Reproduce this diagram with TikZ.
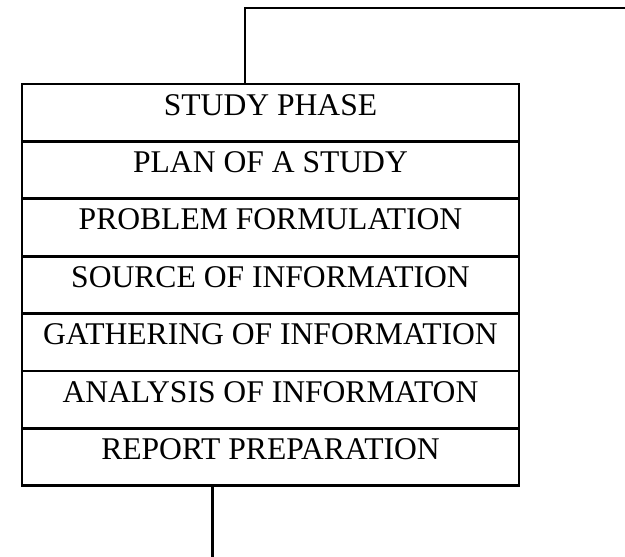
\documentclass[tikz,border=0pt]{standalone}
\usepackage{fontspec}
\setmainfont{Liberation Serif}
\begin{document}
\begin{tikzpicture}[x=1pt,y=-1pt,
  rowbox/.style={draw, line width=2.8pt, rectangle, inner sep=0pt, outer sep=0pt,
    minimum width=497pt, minimum height=57.4pt, text height=22pt, text depth=17.4pt,
    font=\fontsize{31.6}{36}\selectfont},
  conn/.style={line width=2.8pt}]
\useasboundingbox (0,0) rectangle (625,557);
\node[rowbox] (r1) at (270.5,112.7) {STUDY PHASE};
\node[rowbox, anchor=north] (r2) at (r1.south) {PLAN OF A STUDY};
\node[rowbox, anchor=north] (r3) at (r2.south) {PROBLEM FORMULATION};
\node[rowbox, anchor=north] (r4) at (r3.south) {SOURCE OF INFORMATION};
\node[rowbox, anchor=north] (r5) at (r4.south) {GATHERING OF INFORMATION};
\node[rowbox, anchor=north] (r6) at (r5.south) {ANALYSIS OF INFORMATON};
\node[rowbox, anchor=north] (r7) at (r6.south) {REPORT PREPARATION};
\coordinate (t1) at (245,8);
\coordinate (t2) at (625,8);
\coordinate (b1) at (212.7,557);
\draw[conn] (t1 |- r1.north) -- (t1) -- (t2);
\draw[conn] (b1 |- r7.south) -- (b1);
\end{tikzpicture}
\end{document}
